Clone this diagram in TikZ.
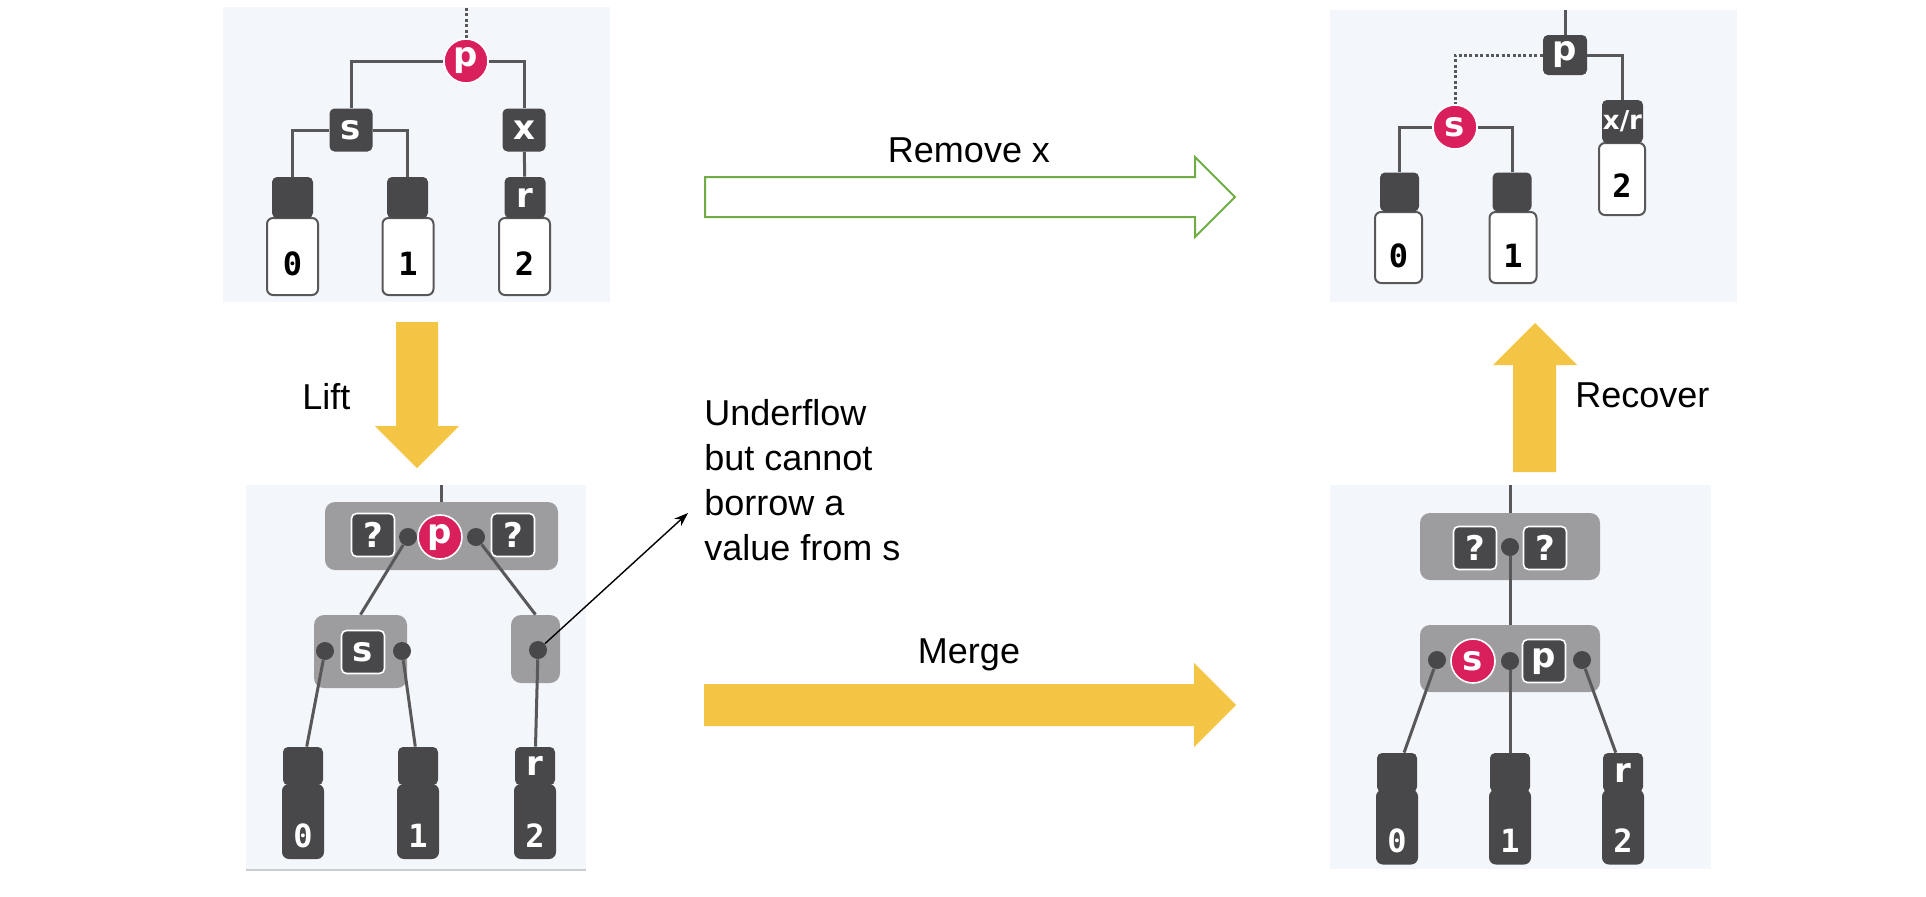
\documentclass[tikz,border=0pt]{standalone}
\usepackage{fontspec}
\setmainfont{Liberation Sans}
\newfontfamily\keyfont{DejaVu Sans}
\newfontfamily\numfont{DejaVu Sans Mono}
\usetikzlibrary{arrows.meta}
\definecolor{panelbg}{HTML}{F3F6FA}
\definecolor{keydark}{HTML}{48484B}
\definecolor{grpgray}{HTML}{9D9D9F}
\definecolor{pinkred}{HTML}{D91F5C}
\definecolor{wiregray}{HTML}{58585A}
\definecolor{gold}{HTML}{F4C444}
\definecolor{okgreen}{HTML}{70AD47}
\definecolor{rulegray}{HTML}{C9CCD1}

\begin{document}
\begin{tikzpicture}
[x=0.5pt,y=-0.5pt,every node/.style={inner sep=0pt},
 panel/.style={fill=panelbg},
 keybox/.style={rectangle,rounded corners=2.5pt,fill=keydark,text=white,minimum size=21.5pt,font=\keyfont\bfseries\fontsize{17}{17}\selectfont},
 keyw/.style={keybox,draw=white,line width=0.8pt},
 hot/.style={circle,fill=pinkred,draw=white,line width=0.8pt,text=white,minimum size=22pt,font=\keyfont\bfseries\fontsize{17}{17}\selectfont},
 knob/.style={circle,fill=keydark,minimum size=9pt},
 grp/.style={rectangle,rounded corners=5pt,fill=grpgray},
 leafhead/.style={keybox,minimum size=20.5pt},
 leafbody/.style={rectangle,rounded corners=3pt,fill=white,draw=wiregray,line width=1pt,minimum width=25.5pt,minimum height=38.5pt,text height=28.5pt,text depth=10pt,font=\numfont\bfseries\fontsize{16}{16}\selectfont},
 darkbody/.style={leafbody,fill=keydark,draw=keydark,text=white,minimum width=20pt,minimum height=36.5pt,text height=31pt,text depth=5.5pt},
 link/.style={draw=wiregray,line width=1.5pt},
 note/.style={font=\fontsize{18}{22.5}\selectfont}]
\useasboundingbox (0,0) rectangle (1926,896);

% panels
\fill[panel] (223,7) rectangle (610,302);
\fill[panel] (1330,10) rectangle (1737,302);
\fill[panel] (246,485) rectangle (586,869);
\fill[panel] (1330,485) rectangle (1711,869);
\draw[rulegray,line width=1pt] (246,870) -- (586,870);

% before: p has children s and x
\node[hot] (p1) at (466,61) {p};
\node[keybox] (s1) at (351,130) {s};
\node[keybox] (x1) at (524,130) {x};
\node[leafbody] (b10) at (292.5,256.5) {0};
\node[leafbody] (b11) at (408,256.5) {1};
\node[leafbody] (b12) at (524.5,256.5) {2};
\node[leafhead] (h10) at (292.5,197.5) {};
\node[leafhead] (h11) at (407.5,197.5) {};
\node[leafhead] (h12) at (525,197.5) {r};
\coordinate (t1) at (466,8);
\draw[link,dash pattern=on 1.5pt off 1.2pt] (t1) -- (p1);
\draw[link] (p1) -| (s1);
\draw[link] (p1) -| (x1);
\draw[link] (s1) -| (h10);
\draw[link] (s1) -| (h11);
\draw[link] (x1) -- (h12);

% after: x removed
\node[keybox,minimum width=22pt,minimum height=20pt] (p2) at (1565,55) {p};
\node[hot] (s2) at (1455,127) {s};
\node[leafbody,minimum width=23pt,minimum height=36pt,text height=27pt,text depth=9pt] (bxr) at (1622,179) {2};
\node[leafhead,minimum width=20.5pt,minimum height=21.5pt,font=\keyfont\bfseries\fontsize{13}{13}\selectfont] (hxr) at (1622.5,121.5) {x/r};
\node[leafbody,minimum width=23.5pt,minimum height=35.5pt,text height=27.5pt,text depth=8pt] (b20) at (1398.5,247.5) {0};
\node[leafbody,minimum width=23.5pt,minimum height=35.5pt,text height=27.5pt,text depth=8pt] (b21) at (1513,247.5) {1};
\node[leafhead,minimum size=19.5pt] (h20) at (1399.5,192) {};
\node[leafhead,minimum size=19.5pt] (h21) at (1512,192) {};
\coordinate (t2) at (1565,10);
\draw[link] (t2) -- (p2);
\draw[link,dash pattern=on 1.5pt off 1.2pt] (p2) -| (s2);
\draw[link] (p2) -| (hxr);
\draw[link] (s2) -| (h20);
\draw[link] (s2) -| (h21);

% lifted
\node[grp,minimum width=116.5pt,minimum height=34pt] (g1) at (441.5,536) {};
\node[grp,minimum width=46.5pt,minimum height=36.5pt] (g2) at (360.5,651.5) {};
\node[grp,minimum width=24.5pt,minimum height=34pt] (g3) at (535.5,649) {};
\node[keyw] (q1) at (373,535) {?};
\node[knob] (d1) at (408,537) {};
\node[hot] (p3) at (440,537) {p};
\node[knob] (d2) at (476,537) {};
\node[keyw] (q2) at (513,535) {?};
\node[knob] (d3) at (325,651) {};
\node[keyw] (s3) at (363,652) {s};
\node[knob] (d4) at (402,651) {};
\node[knob] (d5) at (538,650) {};
\node[darkbody] (b30) at (303,821.5) {0};
\node[darkbody] (b31) at (418,821.5) {1};
\node[darkbody] (b32) at (535,821.5) {2};
\node[leafhead,minimum width=20pt,minimum height=19pt] (h30) at (303,766) {};
\node[leafhead,minimum width=20pt,minimum height=19pt] (h31) at (418,766) {};
\node[leafhead,minimum width=20pt,minimum height=19pt] (h32) at (535,766) {r};
\coordinate (t3) at (441.5,485);
\draw[link] (t3) -- (g1);
\draw[link] (d1) -- (g2.north);
\draw[link] (d2) -- (g3.north);
\draw[link] (d3) -- (h30);
\draw[link] (d4) -- (h31);
\draw[link] (d5) -- (h32);

% merged
\node[grp,minimum width=90pt,minimum height=33.5pt] (g4) at (1510,546.5) {};
\node[grp,minimum width=90pt,minimum height=33.5pt] (g5) at (1510,658.5) {};
\node[keyw] (q3) at (1475,548) {?};
\node[knob] (d6) at (1510,547) {};
\node[keyw] (q4) at (1545,548) {?};
\node[knob] (d7) at (1437,660) {};
\node[hot] (s4) at (1473,661) {s};
\node[knob] (d8) at (1510,661) {};
\node[keyw] (p4) at (1544,661) {p};
\node[knob] (d9) at (1582,660) {};
\node[darkbody,minimum height=35pt] (b40) at (1397,827) {0};
\node[darkbody,minimum height=35pt] (b41) at (1510,827) {1};
\node[darkbody,minimum height=35pt] (b42) at (1623,827) {2};
\node[leafhead,minimum width=20pt,minimum height=19.5pt] (h40) at (1397,772.5) {};
\node[leafhead,minimum width=20pt,minimum height=19.5pt] (h41) at (1510,772.5) {};
\node[leafhead,minimum width=20pt,minimum height=19.5pt] (h42) at (1623,772.5) {r};
\coordinate (t4) at (1510,485);
\draw[link] (t4) -- (g4.north);
\draw[link] (d6) -- (g5.north);
\draw[link] (d7) -- (h40);
\draw[link] (d8) -- (h41);
\draw[link] (d9) -- (h42);

% steps
\draw[okgreen,fill=white,line width=1pt] (705,177) -- (1195,177) -- (1195,157) -- (1235,197)
  -- (1195,237) -- (1195,217) -- (705,217) -- cycle;
\fill[gold] (704,684) -- (1194,684) -- (1194,663) -- (1236,705) -- (1194,747) -- (1194,726) -- (704,726) -- cycle;
\fill[gold] (396,322) -- (438,322) -- (438,426) -- (459,426) -- (417,468) -- (375,426) -- (396,426) -- cycle;
\fill[gold] (1513,472) -- (1556,472) -- (1556,365) -- (1577,365) -- (1535,323) -- (1493,365) -- (1513,365) -- cycle;
\node[note,anchor=base] (rm) at (969,162) {Remove x};
\node[note,anchor=base] (mg) at (969,663) {Merge};
\node[note,anchor=base west] (lf) at (302,409) {Lift};
\node[note,anchor=base west] (rc) at (1575,407) {Recover};
\node[note,anchor=north west,align=left] (uf) at (704,399) {Underflow\\but cannot\\borrow a\\value from s};
\coordinate (ufend) at (688,513);
\draw[-{Stealth[length=7pt,width=5pt]},line width=0.7pt] (d5) -- (ufend);
\end{tikzpicture}
\end{document}
